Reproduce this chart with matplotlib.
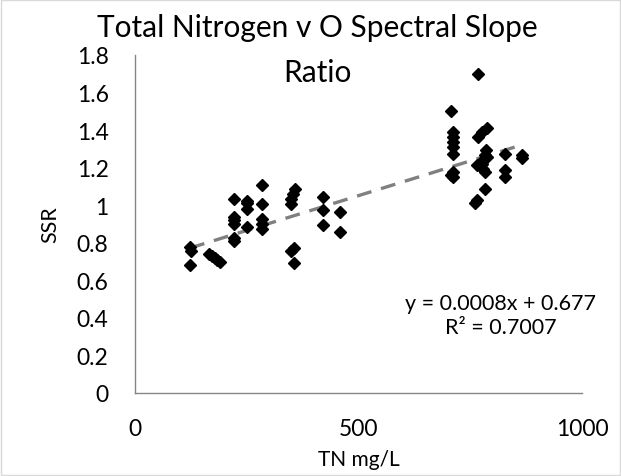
import matplotlib
matplotlib.use("Agg")
import matplotlib.pyplot as plt
import numpy as np
from matplotlib.patches import Rectangle

# ── Dati ──────────────────────────────────────────────────────────────────────
tn_mg_l = [
    123, 125, 123,
    165, 172, 178, 184, 190,
    222, 222, 222, 222, 222, 222,
    250, 250, 250, 250,
    283, 283, 283, 283, 283,
    358, 353, 350, 350,
    356, 350, 356,
    421, 421, 421,
    459, 459,
    768, 708,
    712, 712, 712, 712, 712, 708, 712, 712,
    787, 776, 768,
    785, 783, 779, 764, 779, 783, 776, 787,
    783, 764, 761,
    828, 828, 828,
    865, 865,
]
ssr = [
    0.775, 0.755, 0.682,
    0.74, 0.73, 0.72, 0.71, 0.70,
    1.035, 0.936, 0.92, 0.90, 0.825, 0.81,
    1.025, 1.01, 0.98, 0.883,
    1.11, 1.008, 0.928, 0.90, 0.875,
    1.088, 1.06, 1.035, 1.008,
    0.77, 0.758, 0.69,
    1.043, 0.972, 0.897,
    0.963, 0.856,
    1.699, 1.501,
    1.391, 1.364, 1.337, 1.31, 1.275, 1.159, 1.177, 1.15,
    1.409, 1.39, 1.364,
    1.293, 1.266, 1.239, 1.213, 1.195, 1.177, 1.222, 1.257,
    1.088, 1.026, 1.011,
    1.275, 1.186, 1.15,
    1.27, 1.25,
]

TREND_SLOPE = 0.00074
TREND_INTERCEPT = 0.681
EQ_TEXT = "y = 0.0008x + 0.677\nR² = 0.7007"
TITLE = ["Total Nitrogen v O Spectral Slope", "Ratio"]

XTICKS = [0, 500, 1000]
YTICKS = [0, 0.2, 0.4, 0.6, 0.8, 1.0, 1.2, 1.4, 1.6, 1.8]
YTICK_LABELS = ["0", "0.2", "0.4", "0.6", "0.8", "1", "1.2", "1.4", "1.6", "1.8"]

C_AXIS = "#868686"
C_TREND = "#808080"

plt.rcParams["font.family"] = ["Lato", "DejaVu Sans"]

fig = plt.figure(figsize=(6.21, 4.77), dpi=100, facecolor="white")
ax = fig.add_axes([135 / 621, 1 - 394 / 477, (582 - 135) / 621, (394 - 56) / 477])

# linea di tendenza (tratteggiata)
xs = np.array([min(tn_mg_l), max(tn_mg_l)])
ax.plot(xs, TREND_SLOPE * xs + TREND_INTERCEPT, color=C_TREND, lw=2.4,
        ls=(0, (4.5, 3.0)), solid_capstyle="butt", zorder=2)

ax.plot(tn_mg_l, ssr, ls="none", marker="D", ms=5.8, color="black",
        mec="black", zorder=3)

ax.set_xlim(0, 1000)
ax.set_ylim(0, 1.8)
ax.set_xticks(XTICKS)
ax.set_xticklabels([str(t) for t in XTICKS])
ax.set_yticks(YTICKS)
ax.set_yticklabels(YTICK_LABELS)
ax.tick_params(length=0, labelsize=16.5, colors="black")
ax.tick_params(axis="y", pad=19)
ax.tick_params(axis="x", pad=18)

ax.spines[["top", "right"]].set_visible(False)
for s in ("left", "bottom"):
    ax.spines[s].set_color(C_AXIS)
    ax.spines[s].set_linewidth(1.0)

ax.set_xlabel("TN mg/L", fontsize=15, labelpad=7)
ax.set_ylabel("SSR", fontsize=15.5, labelpad=12)

fig.text(317 / 621, 1 - 28 / 477, TITLE[0], ha="center", va="center", fontsize=21.5)
fig.text(317 / 621, 1 - 73 / 477, TITLE[1], ha="center", va="center", fontsize=21.5)

ax.text(818, 0.415, EQ_TEXT, ha="center", va="center", fontsize=15.5,
        linespacing=1.3)

# bordo area grafico
fig.patches.append(Rectangle((0.002, 0.002), 0.996, 0.996, transform=fig.transFigure,
                             fill=False, edgecolor="#D9D9D9", lw=1.0))

fig.savefig("out.png", dpi=100, facecolor="white")
